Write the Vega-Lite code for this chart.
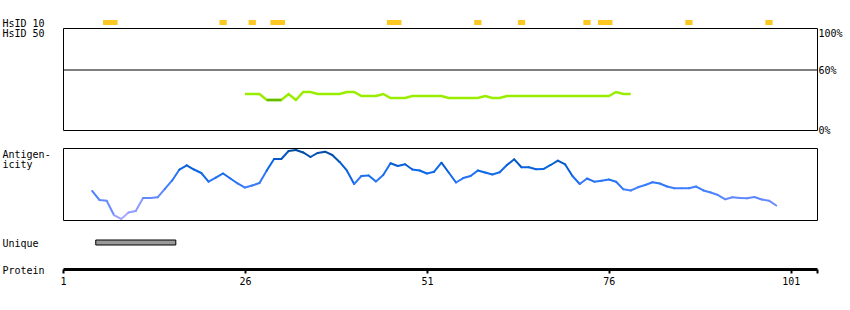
{
  "$schema": "https://vega.github.io/schema/vega-lite/v6.json",
  "autosize": {"type": "pad"},
  "padding": {"left": 1, "top": 18, "right": 2, "bottom": 2},
  "background": "white",
  "spacing": 3,
  "bounds": "flush",
  "config": {
    "view": {"stroke": null},
    "axis": {
      "grid": false,
      "labelFont": "DejaVu Sans Mono",
      "labelFontSize": 10,
      "labelColor": "black",
      "titleFont": "DejaVu Sans Mono",
      "titleFontSize": 10,
      "titleFontWeight": "normal",
      "titleColor": "black",
      "titleAngle": 0,
      "titleAlign": "left",
      "titleBaseline": "alphabetic",
      "titleX": -61,
      "titlePadding": 0
    }
  },
  "datasets": {
    "hsid10": [
      {"start": 6.5, "end": 8.5},
      {"start": 22.5, "end": 23.5},
      {"start": 26.5, "end": 27.5},
      {"start": 29.5, "end": 31.5},
      {"start": 45.5, "end": 47.5},
      {"start": 57.5, "end": 58.5},
      {"start": 63.5, "end": 64.5},
      {"start": 72.5, "end": 73.5},
      {"start": 74.5, "end": 76.5},
      {"start": 86.5, "end": 87.5},
      {"start": 97.5, "end": 98.5}
    ],
    "hsid50": [
      {"r": 26, "v": 36}, {"r": 27, "v": 36}, {"r": 28, "v": 36}, {"r": 29, "v": 30},
      {"r": 30, "v": 30}, {"r": 31, "v": 30}, {"r": 32, "v": 36}, {"r": 33, "v": 30},
      {"r": 34, "v": 38}, {"r": 35, "v": 38}, {"r": 36, "v": 36}, {"r": 37, "v": 36},
      {"r": 38, "v": 36}, {"r": 39, "v": 36}, {"r": 40, "v": 38}, {"r": 41, "v": 38},
      {"r": 42, "v": 34}, {"r": 43, "v": 34}, {"r": 44, "v": 34}, {"r": 45, "v": 36},
      {"r": 46, "v": 32}, {"r": 47, "v": 32}, {"r": 48, "v": 32}, {"r": 49, "v": 34},
      {"r": 50, "v": 34}, {"r": 51, "v": 34}, {"r": 52, "v": 34}, {"r": 53, "v": 34},
      {"r": 54, "v": 32}, {"r": 55, "v": 32}, {"r": 56, "v": 32}, {"r": 57, "v": 32},
      {"r": 58, "v": 32}, {"r": 59, "v": 34}, {"r": 60, "v": 32}, {"r": 61, "v": 32},
      {"r": 62, "v": 34}, {"r": 63, "v": 34}, {"r": 64, "v": 34}, {"r": 65, "v": 34},
      {"r": 66, "v": 34}, {"r": 67, "v": 34}, {"r": 68, "v": 34}, {"r": 69, "v": 34},
      {"r": 70, "v": 34}, {"r": 71, "v": 34}, {"r": 72, "v": 34}, {"r": 73, "v": 34},
      {"r": 74, "v": 34}, {"r": 75, "v": 34}, {"r": 76, "v": 34}, {"r": 77, "v": 38},
      {"r": 78, "v": 36}, {"r": 79, "v": 36}
    ],
    "antigen": [
      {"r": 5, "v": 0.403}, {"r": 6, "v": 0.278}, {"r": 7, "v": 0.268}, {"r": 8, "v": 0.069},
      {"r": 9, "v": 0.014}, {"r": 10, "v": 0.104}, {"r": 11, "v": 0.125}, {"r": 12, "v": 0.306},
      {"r": 13, "v": 0.306}, {"r": 14, "v": 0.315}, {"r": 15, "v": 0.431}, {"r": 16, "v": 0.549},
      {"r": 17, "v": 0.701}, {"r": 18, "v": 0.76}, {"r": 19, "v": 0.701}, {"r": 20, "v": 0.653},
      {"r": 21, "v": 0.532}, {"r": 22, "v": 0.59}, {"r": 23, "v": 0.646}, {"r": 24, "v": 0.576},
      {"r": 25, "v": 0.507}, {"r": 26, "v": 0.451}, {"r": 27, "v": 0.479}, {"r": 28, "v": 0.514},
      {"r": 29, "v": 0.688}, {"r": 30, "v": 0.847}, {"r": 31, "v": 0.847}, {"r": 32, "v": 0.958},
      {"r": 33, "v": 0.972}, {"r": 34, "v": 0.938}, {"r": 35, "v": 0.875}, {"r": 36, "v": 0.931},
      {"r": 37, "v": 0.949}, {"r": 38, "v": 0.903}, {"r": 39, "v": 0.806}, {"r": 40, "v": 0.688},
      {"r": 41, "v": 0.5}, {"r": 42, "v": 0.611}, {"r": 43, "v": 0.618}, {"r": 44, "v": 0.535},
      {"r": 45, "v": 0.625}, {"r": 46, "v": 0.788}, {"r": 47, "v": 0.75}, {"r": 48, "v": 0.774},
      {"r": 49, "v": 0.701}, {"r": 50, "v": 0.688}, {"r": 51, "v": 0.646}, {"r": 52, "v": 0.671},
      {"r": 53, "v": 0.796}, {"r": 54, "v": 0.66}, {"r": 55, "v": 0.521}, {"r": 56, "v": 0.583},
      {"r": 57, "v": 0.611}, {"r": 58, "v": 0.688}, {"r": 59, "v": 0.66}, {"r": 60, "v": 0.632},
      {"r": 61, "v": 0.663}, {"r": 62, "v": 0.764}, {"r": 63, "v": 0.843}, {"r": 64, "v": 0.732},
      {"r": 65, "v": 0.732}, {"r": 66, "v": 0.706}, {"r": 67, "v": 0.708}, {"r": 68, "v": 0.764},
      {"r": 69, "v": 0.824}, {"r": 70, "v": 0.771}, {"r": 71, "v": 0.611}, {"r": 72, "v": 0.5},
      {"r": 73, "v": 0.576}, {"r": 74, "v": 0.532}, {"r": 75, "v": 0.546}, {"r": 76, "v": 0.563},
      {"r": 77, "v": 0.532}, {"r": 78, "v": 0.426}, {"r": 79, "v": 0.41}, {"r": 80, "v": 0.454},
      {"r": 81, "v": 0.486}, {"r": 82, "v": 0.524}, {"r": 83, "v": 0.507}, {"r": 84, "v": 0.465},
      {"r": 85, "v": 0.44}, {"r": 86, "v": 0.44}, {"r": 87, "v": 0.44}, {"r": 88, "v": 0.465},
      {"r": 89, "v": 0.41}, {"r": 90, "v": 0.382}, {"r": 91, "v": 0.347}, {"r": 92, "v": 0.288},
      {"r": 93, "v": 0.315}, {"r": 94, "v": 0.306}, {"r": 95, "v": 0.301}, {"r": 96, "v": 0.319},
      {"r": 97, "v": 0.285}, {"r": 98, "v": 0.268}, {"r": 99, "v": 0.201}
    ],
    "unique": [{"start": 5.5, "end": 16.5}]
  },
  "vconcat": [
    {
      "width": 754,
      "height": 5,
      "data": {"name": "hsid10"},
      "mark": {"type": "rect", "color": "#fdc821"},
      "encoding": {
        "x": {
          "field": "start", "type": "quantitative",
          "scale": {"domain": [1, 104.6], "nice": false, "zero": false},
          "axis": {"orient": "top", "title": "HsID 10", "titleY": 6, "domain": false, "ticks": false, "labels": false}
        },
        "x2": {"field": "end"}
      }
    },
    {
      "width": 754,
      "height": 102,
      "view": {"stroke": "black", "strokeWidth": 1},
      "layer": [
        {
          "data": {"values": [{"level": 60}]},
          "mark": {"type": "rule", "color": "black", "strokeWidth": 1},
          "encoding": {"y": {"field": "level", "type": "quantitative"}}
        },
        {
          "data": {"name": "hsid50"},
          "mark": {"type": "line", "color": "#99ee00", "strokeWidth": 2.5},
          "encoding": {
            "x": {
              "field": "r", "type": "quantitative",
              "scale": {"domain": [1, 104.6], "nice": false, "zero": false},
              "axis": {"orient": "top", "title": "HsID 50", "titleY": 8, "domain": false, "ticks": false, "labels": false}
            },
            "y": {
              "field": "v", "type": "quantitative",
              "scale": {"domain": [0, 102], "nice": false, "zero": true},
              "axis": {
                "orient": "right", "title": null, "values": [0, 60, 100],
                "labelExpr": "datum.value + '%'",
                "domain": false, "ticks": false, "tickSize": 0, "labelPadding": 1,
                "labelBaseline": "middle",
                "labelOffset": {"condition": {"test": "datum.value == 100", "value": 3}, "value": 0.5}
              }
            }
          }
        },
        {
          "data": {"name": "hsid50"},
          "transform": [{"filter": "datum.r >= 29 && datum.r <= 31"}],
          "mark": {"type": "line", "color": "#66bb00", "strokeWidth": 2.5},
          "encoding": {
            "x": {"field": "r", "type": "quantitative"},
            "y": {"field": "v", "type": "quantitative"}
          }
        }
      ]
    },
    {
      "width": 754,
      "height": 12,
      "data": {"values": []},
      "mark": "point"
    },
    {
      "width": 754,
      "height": 72,
      "view": {"stroke": "black", "strokeWidth": 1},
      "data": {"name": "antigen"},
      "transform": [
        {"window": [{"op": "lead", "field": "r", "as": "r2"}, {"op": "lead", "field": "v", "as": "v2"}], "sort": [{"field": "r", "order": "ascending"}]},
        {"filter": "datum.r2 != null"}
      ],
      "mark": {"type": "rule", "strokeWidth": 2, "strokeCap": "round"},
      "encoding": {
        "x": {
          "field": "r", "type": "quantitative",
          "scale": {"domain": [1, 104.6], "nice": false, "zero": false},
          "axis": {"orient": "top", "title": ["Antigen-", "icity"], "titleY": 9, "titleLineHeight": 10, "domain": false, "ticks": false, "labels": false}
        },
        "x2": {"field": "r2"},
        "y": {"field": "v", "type": "quantitative", "scale": {"domain": [0, 1], "nice": false, "zero": false}, "axis": null},
        "y2": {"field": "v2"},
        "color": {
          "field": "v", "type": "quantitative",
          "scale": {"domain": [0, 0.25, 0.45, 0.7, 1], "range": ["#aaaaff", "#6f8cff", "#3d7dff", "#0a66e6", "#00479a"], "interpolate": "rgb"},
          "legend": null
        }
      }
    },
    {
      "width": 754,
      "height": 14,
      "data": {"values": []},
      "mark": "point"
    },
    {
      "width": 754,
      "height": 5,
      "data": {"name": "unique"},
      "mark": {"type": "rect", "fill": "#999999", "stroke": "black", "strokeWidth": 1},
      "encoding": {
        "x": {
          "field": "start", "type": "quantitative",
          "scale": {"domain": [1, 104.6], "nice": false, "zero": false},
          "axis": {"orient": "top", "title": "Unique", "titleY": 6, "domain": false, "ticks": false, "labels": false}
        },
        "x2": {"field": "end"}
      }
    },
    {
      "width": 754,
      "height": 21,
      "data": {"values": []},
      "mark": "point",
      "encoding": {
        "x": {
          "field": "r", "type": "quantitative",
          "scale": {"domain": [1, 104.6], "nice": false, "zero": false},
          "axis": {
            "orient": "bottom", "title": "Protein", "titleY": 4,
            "values": [1, 26, 51, 76, 101, 104.6],
            "labelExpr": "datum.value > 102 ? '' : datum.label",
            "labelFlush": false, "labelOverlap": false,
            "domain": true, "domainColor": "black", "domainWidth": 3,
            "ticks": true, "tickColor": "black", "tickWidth": 2, "tickSize": 4,
            "labelBaseline": "top", "labelPadding": 3
          }
        }
      }
    }
  ]
}
